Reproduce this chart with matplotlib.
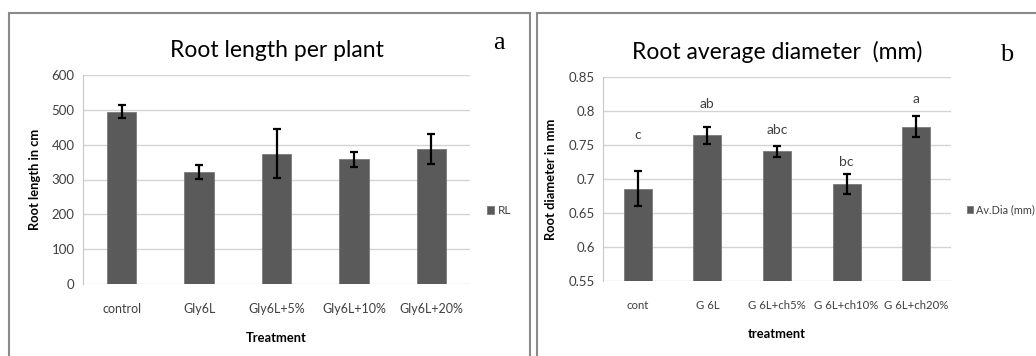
import matplotlib
matplotlib.use("Agg")
import matplotlib.pyplot as plt
from matplotlib.patches import Rectangle

plt.rcParams['font.family'] = ['Lato', 'DejaVu Sans']

# panel a: root length per plant
rl_labels = ["control", "Gly6L", "Gly6L+5%", "Gly6L+10%", "Gly6L+20%"]
rl_values = [495, 322, 374, 358, 387]
rl_err = [19, 21, 71, 21, 43]

# panel b: root average diameter
dia_labels = ["cont", "G 6L", "G 6L+ch5%", "G 6L+ch10%", "G 6L+ch20%"]
dia_values = [0.686, 0.764, 0.741, 0.693, 0.777]
dia_err = [0.026, 0.012, 0.008, 0.015, 0.015]
dia_letters = ["c", "ab", "abc", "bc", "a"]
dia_letter_y = [0.765, 0.810, 0.772, 0.725, 0.818]

W, H = 1036, 356
bar_col = "#5a5a5a"
grid_col = "#d4d4d4"
txt_col = "#404040"

fig = plt.figure(figsize=(W / 100, H / 100), dpi=100)
fig.patch.set_facecolor("white")

def px_axes(x0, y0, x1, y1):
    return fig.add_axes([x0 / W, (H - y1) / H, (x1 - x0) / W, (y1 - y0) / H])

# panel frames
for (x0, x1) in [(9, 530), (537, 1045)]:
    fig.patches.append(Rectangle((x0 / W, -0.05), (x1 - x0) / W, (H + 18 - 13) / H,
                                 transform=fig.transFigure, fill=False,
                                 edgecolor="#8a8a8a", linewidth=1.5))

def style(ax, xfs):
    for s in ["top", "right", "bottom"]:
        ax.spines[s].set_visible(False)
    ax.spines["left"].set_color("#c8c8c8")
    ax.yaxis.grid(True, color=grid_col, linewidth=1.0)
    ax.set_axisbelow(True)
    ax.tick_params(axis="y", length=0, labelsize=9.5, labelcolor=txt_col, pad=6)
    ax.tick_params(axis="x", length=0, labelsize=xfs, labelcolor=txt_col, pad=14)

def legend(ax, fs):
    ax.legend(loc="center left", bbox_to_anchor=(1.045, 0.35), frameon=False,
              borderpad=0, borderaxespad=0, handlelength=0.6, handleheight=0.6,
              handletextpad=0.25, fontsize=fs, labelcolor=txt_col)

# --- panel a
ax1 = px_axes(83, 75, 470, 284)
ax1.bar(range(len(rl_labels)), rl_values, width=0.38, color=bar_col,
        edgecolor="#7a7a7a", linewidth=0.6, label="RL")
ax1.errorbar(range(len(rl_labels)), rl_values, yerr=rl_err, fmt="none",
             ecolor="black", elinewidth=1.6, capsize=3, capthick=1.6)
ax1.set_xlim(-0.5, len(rl_labels) - 0.5)
ax1.set_ylim(0, 600)
ax1.set_yticks(range(0, 601, 100))
ax1.set_xticks(range(len(rl_labels)))
ax1.set_xticklabels(rl_labels)
style(ax1, 9)
ax1.set_ylabel("Root length in cm", fontsize=9.3, fontweight="bold", color="black", labelpad=8)
ax1.set_xlabel("Treatment", fontsize=9.3, fontweight="bold", color="black", labelpad=12)
ax1.set_title("Root length per plant", fontsize=16.5, color="black", pad=13)
legend(ax1, 8.5)
fig.text(499 / W, 1 - 43 / H, "a", fontsize=19, family="Liberation Serif",
         ha="center", va="center")

# --- panel b
ax2 = px_axes(603, 77, 951, 281)
ax2.bar(range(len(dia_labels)), dia_values, width=0.4, color=bar_col,
        edgecolor="#7a7a7a", linewidth=0.6, label="Av.Dia (mm)")
ax2.errorbar(range(len(dia_labels)), dia_values, yerr=dia_err, fmt="none",
             ecolor="black", elinewidth=1.6, capsize=3, capthick=1.6)
for i, (lt, ly) in enumerate(zip(dia_letters, dia_letter_y)):
    ax2.text(i, ly, lt, ha="center", va="center", fontsize=10, color=txt_col)
ax2.set_xlim(-0.5, len(dia_labels) - 0.5)
ax2.set_ylim(0.55, 0.85)
ax2.set_yticks([0.55, 0.6, 0.65, 0.7, 0.75, 0.8, 0.85])
ax2.set_yticklabels(["0.55", "0.6", "0.65", "0.7", "0.75", "0.8", "0.85"])
ax2.set_xticks(range(len(dia_labels)))
ax2.set_xticklabels(dia_labels)
style(ax2, 8.2)
ax2.set_ylabel("Root diameter in mm", fontsize=9.3, fontweight="bold", color="black", labelpad=8)
ax2.set_xlabel("treatment", fontsize=9.3, fontweight="bold", color="black", labelpad=12)
ax2.set_title("Root average diameter  (mm)", fontsize=16.5, color="black", pad=13)
legend(ax2, 7.8)
fig.text(1007 / W, 1 - 55 / H, "b", fontsize=19, family="Liberation Serif",
         ha="center", va="center")

fig.savefig("out.png", dpi=100)
